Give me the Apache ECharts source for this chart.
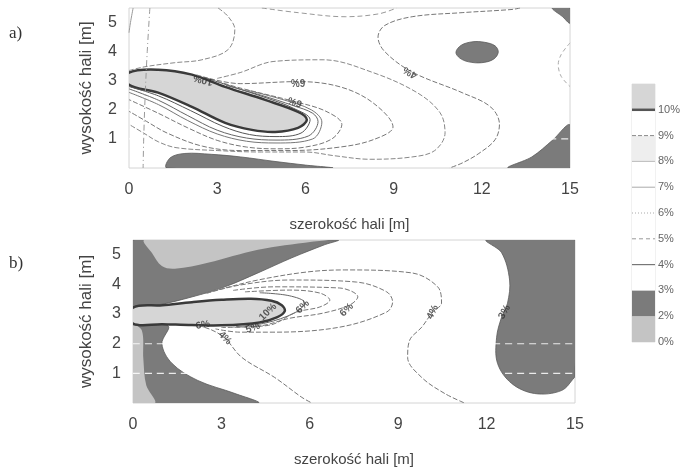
<!DOCTYPE html>
<html><head><meta charset="utf-8">
<script src="https://cdn.jsdelivr.net/npm/echarts@6/dist/echarts.min.js"></script>
<style>html,body{margin:0;padding:0;background:#fff}#c{width:683px;height:470px}</style>
</head><body><div id="c"></div>
<script>
// ---------- axes / ticks ----------
const xTicks = [0, 3, 6, 9, 12, 15];
const yTicks = [1, 2, 3, 4, 5];
const xMax = 15, yMax = 5.5;
const gridLinesY = [1, 2];

// ---------- panel a) : regions (x [m], y [m]) ----------
const aAbove10 = [[0,3.28],[0.99,3.38],[2.14,3.21],[3.27,2.79],[4.63,2.34],[5.75,1.93],[6.05,1.66],[5.75,1.38],[4.97,1.24],[4.18,1.31],[3.27,1.55],[2.14,2.10],[0.99,2.59],[0,2.86]];
const aDarkEllipse = [[11.12,3.98],[11.3,4.22],[11.7,4.34],[12.1,4.32],[12.45,4.2],[12.56,3.98],[12.4,3.74],[12.0,3.62],[11.55,3.65],[11.25,3.78]];
const aDarkTopRight = [[14.4,5.5],[15,5.5],[15,4.98],[14.75,5.2]];
const aDarkBottomRight = [[12.9,0],[13.7,0.38],[14.4,0.95],[15,1.48],[15,0]];
const aDarkBottomLeft = [[1.29,0],[1.4,0.35],[1.9,0.5],[2.8,0.47],[3.8,0.38],[5.0,0.22],[6.0,0.1],[6.9,0]];

// ---------- panel a) : contour lines ----------
const aC9 = [[2.6,3.1],[3.5,2.8],[4.7,2.4],[5.6,2.05],[6.16,1.66],[5.85,1.2],[5,1.08],[4.1,1.15],[3.2,1.43],[2.1,1.97],[1,2.48],[0,2.8]];
const aC8 = [[3.3,2.84],[4.5,2.5],[5.6,2.14],[6.25,1.88],[6.43,1.6],[6.1,1.1],[5,0.96],[4,1.03],[3,1.3],[2,1.8],[1,2.33],[0,2.72]];
const aC7 = [[4.0,2.68],[5.2,2.36],[6.2,2.0],[6.56,1.58],[6.25,1.0],[5,0.86],[4,0.92],[3,1.17],[2,1.63],[1,2.18],[0,2.6]];
const aC6 = [[3.0,2.98],[3.78,2.75],[5.65,2.28],[6.7,1.95],[7.24,1.5],[6.9,1.0],[6,0.72],[5,0.66],[4,0.72],[3,0.95],[2,1.38],[1,1.88],[0,2.35]];
const aC5 = [[2.3,3.2],[3.78,2.9],[5.75,2.97],[7.18,2.79],[8.3,2.24],[8.98,1.41],[8.3,0.97],[7.18,0.72],[5.5,0.6],[3.78,0.6],[2.5,0.75],[1.3,1.2],[0.6,1.6],[0,1.95]];
const aC4 = [[3.0,3.08],[3.78,3.28],[4.9,3.66],[6.6,3.72],[8.3,3.28],[9.8,2.59],[10.58,1.9],[10.75,1.21],[10.4,0.6],[9.63,0.38],[8.2,0.3],[7.0,0.42],[6.0,0.55],[4.5,0.55],[3,0.6],[1.6,0.7],[1.0,0.9],[0.5,1.2],[0,1.5]];
const aBig = [[13.3,5.5],[13.03,5.45],[11.33,5.34],[9.63,5.2],[8.7,4.9],[8.47,4.5],[8.7,4.0],[9.63,3.3],[11.33,2.59],[12.3,2.1],[12.6,1.5],[12.45,0.97],[11.9,0.5],[11.33,0.17],[10.9,0]];
const aTopLoop = [[3.03,5.5],[3.37,5.21],[3.6,4.76],[3.37,4.07],[2.48,3.72],[1.56,3.62],[0.54,3.48],[0,3.35]];
const aTopDip = [[4.52,5.5],[5.75,5.34],[7.35,5.2],[8.5,5.3],[9.1,5.5]];
const aRight = [[15,4.3],[14.7,3.9],[14.6,3.55],[14.7,3.15],[15,2.8]];
const aCorner = [[0.14,5.5],[0.05,5.0],[0,4.65]];
const aVertical = [[0.71,5.5],[0.62,4],[0.55,2.5],[0.5,1],[0.48,0]];

// ---------- panel a) : contour labels ----------
const aLabelText = ['10%', '6%', '6%', '4%'];
const aLabelX = [2.52, 5.75, 5.65, 9.56];
const aLabelY = [3.03, 2.97, 2.28, 3.28];
const aLabelRot = [165, 180, 160, 150];

// ---------- panel b) : regions ----------
const bAbove10 = [[0,3.22],[1,3.3],[2,3.4],[3,3.48],[4,3.52],[4.7,3.45],[5.05,3.3],[5.15,3.1],[4.9,2.9],[4.3,2.72],[3,2.62],[2,2.63],[1,2.66],[0,2.68]];
const bDarkTop = [[0,5.5],[6.95,5.5],[6.5,5.34],[5.39,4.9],[4.24,4.39],[3.12,3.92],[2.0,3.58],[0.85,3.31],[0,3.24]];
const bLowTop = [[0.4,5.5],[0.65,5.05],[0.98,4.62],[1.42,4.53],[2.54,4.73],[4.24,5.17],[6.07,5.44],[6.61,5.5]];
const bDarkBottom = [[0,2.68],[1.19,2.6],[0.98,2.0],[1.32,1.34],[2.2,0.76],[3.46,0.32],[4.24,0],[0,0]];
const bLowBottom = [[0,2.6],[0.3,2.45],[0.35,1.5],[0.45,0.6],[0.75,0],[0,0]];
const bDarkRight = [[12.0,5.5],[12.51,5.07],[12.78,4.15],[12.71,3.37],[12.51,2.9],[12.34,2.22],[12.37,1.34],[12.85,0.66],[13.63,0.32],[14.54,0.42],[14.98,0.86],[15,0.9],[15,5.5]];

// ---------- panel b) : contour lines ----------
const bC1 = [[4.3,3.72],[5.3,3.62],[5.83,3.38],[5.5,3.05],[4.5,2.7],[3.5,2.58]];
const bC2 = [[3.8,3.75],[5.32,3.81],[6.34,3.71],[6.68,3.47],[6.34,3.24],[5.56,3.07],[4.6,2.62],[3.4,2.56]];
const bC3 = [[3.4,3.8],[4.75,3.92],[7.02,3.88],[7.63,3.58],[7.36,3.31],[6.44,3.03],[5.32,2.86],[4.3,2.6],[3,2.55]];
const bC4 = [[2.5,3.7],[3.63,3.98],[5.32,4.15],[7.59,4.08],[8.61,3.75],[8.81,3.41],[8.61,3.07],[7.02,2.56],[4.75,2.39],[3.63,2.39],[2.8,2.5]];
const bC4upper = [[1.76,3.54],[3.0,3.85],[4.24,4.15],[5.9,4.42],[7.19,4.49],[9.46,4.39],[10.34,3.92],[10.47,3.37],[10.17,3.07],[9.8,2.56],[9.39,2.12],[9.32,1.54],[9.8,0.86],[10.58,0.32],[11.25,0]];
const bC4lower = [[2.2,2.62],[2.68,2.46],[3.12,2.19],[3.69,1.54],[4.81,0.86],[5.73,0.19],[6.07,0]];

// ---------- panel b) : contour labels ----------
const bLabelText = ['6%', '5%', '10%', '6%', '6%', '4%', '4%', '3%'];
const bLabelX = [2.37, 4.07, 4.58, 5.76, 7.25, 3.12, 10.17, 12.61];
const bLabelY = [2.63, 2.53, 3.07, 3.24, 3.14, 2.19, 3.07, 3.07];
const bLabelRot = [10, 20, 45, 45, 45, -45, 65, 60];

// ---------- legend ----------
const legendLabels = ['0%', '2%', '3%', '4%', '5%', '6%', '7%', '8%', '9%', '10%'];

// ---------- styles ----------
const FONT = '"Liberation Sans", Arial, sans-serif';
const C_HIGH = '#d6d6d6', C_LOW = '#c4c4c4', C_DARK = '#7b7b7b';
const legendFills = [C_LOW, C_DARK, '#fff', '#fff', '#fff', '#fff', '#fff', '#eeeeee', '#fff', C_HIGH];
const legendLine = [null, null, null,
  {color:'#777', width:1.2, type:'solid'}, {color:'#999', width:1, type:[4,3]},
  {color:'#aaa', width:1, type:[1,2]}, {color:'#aaa', width:1, type:'solid'},
  {color:'#bbb', width:1, type:'solid'}, {color:'#888', width:1, type:[4,2]},
  {color:'#555', width:2.5, type:'solid'}];

function polySeries(gi, poly, fill, stroke, lw, z) {
  return {
    type: 'custom', xAxisIndex: gi, yAxisIndex: gi, clip: true, silent: true, z: z || 2,
    data: [[poly[0][0], poly[0][1]]],
    renderItem: function (params, api) {
      const pts = poly.map(function (q) { return api.coord(q); });
      return { type: 'polygon', shape: { points: pts, smooth: 0.35 },
        style: { fill: fill, stroke: stroke || null, lineWidth: lw || 0 } };
    }
  };
}
function lineSeries(gi, pts, color, width, type, z) {
  return {
    type: 'line', xAxisIndex: gi, yAxisIndex: gi, data: pts, smooth: 0.35,
    symbol: 'none', silent: true, clip: true, z: z || 5,
    lineStyle: { color: color, width: width, type: type }
  };
}
function labelSeries(gi, txt, xs, ys, rots) {
  return {
    type: 'scatter', xAxisIndex: gi, yAxisIndex: gi, symbolSize: 1, silent: true, z: 7,
    itemStyle: { color: 'rgba(0,0,0,0)' },
    data: txt.map(function (t, i) {
      return { name: t, value: [xs[i], ys[i]], label: { rotate: rots[i] } };
    }),
    label: { show: true, position: 'inside', formatter: '{b}', fontSize: 10, fontWeight: 'bold',
      color: '#333', fontFamily: FONT }
  };
}
function gridLineSeries(gi) {
  return gridLinesY.map(function (g) {
    return lineSeries(gi, [[0, g], [xMax, g]], 'rgba(255,255,255,0.85)', 1.2, [7, 5], 3);
  });
}

function xAxisCfg(gi) {
  return { gridIndex: gi, type: 'value', min: 0, max: xMax, interval: 3,
    axisLine: { show: false }, axisTick: { show: false }, splitLine: { show: false },
    axisLabel: { fontSize: 16, color: '#444', margin: 14, fontFamily: FONT,
      formatter: function (v) { return xTicks.indexOf(v) >= 0 ? String(v) : ''; } },
    name: 'szerokość hali [m]', nameLocation: 'middle', nameGap: 49,
    nameTextStyle: { fontSize: 15, color: '#444', fontFamily: FONT } };
}
function yAxisCfg(gi, gap) {
  return { gridIndex: gi, type: 'value', min: 0, max: yMax, interval: 1,
    axisLine: { show: false }, axisTick: { show: false }, splitLine: { show: false },
    axisLabel: { fontSize: 16, color: '#444', margin: 12, fontFamily: FONT,
      formatter: function (v) { return yTicks.indexOf(v) >= 0 ? String(v) : ''; } },
    name: 'wysokość hali [m]', nameLocation: 'middle', nameGap: gap, nameRotate: 90,
    nameTextStyle: { fontSize: 17, color: '#444', fontFamily: FONT } };
}

const series = [];
// panel a  (dark fills z2, white grid dashes z3, >10% area z4, lines z5, labels z7)
[aDarkEllipse, aDarkTopRight, aDarkBottomRight, aDarkBottomLeft].forEach(function (p) {
  series.push(polySeries(0, p, C_DARK, '#5a5a5a', 0.8));
});
series.push.apply(series, gridLineSeries(0));
series.push(polySeries(0, aAbove10, C_HIGH, '#3a3a3a', 2.5, 4));
series.push(lineSeries(0, aC9, '#555', 1, 'solid'));
series.push(lineSeries(0, aC8, '#666', 1, 'solid'));
series.push(lineSeries(0, aC7, '#777', 1, 'solid'));
series.push(lineSeries(0, aC6, '#777', 1, [5, 2]));
series.push(lineSeries(0, aC5, '#777', 1, [5, 2]));
series.push(lineSeries(0, aC4, '#888', 1, [5, 2]));
series.push(lineSeries(0, aBig, '#777', 1, [5, 2]));
series.push(lineSeries(0, aTopLoop, '#888', 1, [5, 2]));
series.push(lineSeries(0, aTopDip, '#999', 1, [5, 3]));
series.push(lineSeries(0, aRight, '#aaa', 1, [4, 3]));
series.push(lineSeries(0, aCorner, '#999', 1, 'solid'));
series.push(lineSeries(0, aVertical, '#999', 1, [6, 3, 1, 3]));
series.push(labelSeries(0, aLabelText, aLabelX, aLabelY, aLabelRot));
// panel b
series.push(polySeries(1, bDarkTop, C_DARK, '#5a5a5a', 0.8));
series.push(polySeries(1, bLowTop, C_LOW, null, 0));
series.push(polySeries(1, bDarkBottom, C_DARK, '#5a5a5a', 0.8));
series.push(polySeries(1, bLowBottom, C_LOW, null, 0));
series.push(polySeries(1, bDarkRight, C_DARK, '#5a5a5a', 0.8));
series.push.apply(series, gridLineSeries(1));
series.push(polySeries(1, bAbove10, C_HIGH, '#3a3a3a', 2.5, 4));
series.push(lineSeries(1, bC1, '#666', 1, 'solid'));
series.push(lineSeries(1, bC2, '#777', 1, [5, 2]));
series.push(lineSeries(1, bC3, '#777', 1, [5, 2]));
series.push(lineSeries(1, bC4, '#777', 1, [5, 2]));
series.push(lineSeries(1, bC4upper, '#777', 1, [5, 2]));
series.push(lineSeries(1, bC4lower, '#777', 1, [5, 2]));
series.push(labelSeries(1, bLabelText, bLabelX, bLabelY, bLabelRot));
// legend
series.push({
  type: 'custom', xAxisIndex: 2, yAxisIndex: 2, silent: true, z: 2,
  data: legendFills.map(function (c, i) { return [0, i]; }),
  renderItem: function (params, api) {
    const i = params.dataIndex;
    const p0 = api.coord([0, i + 1]), p1 = api.coord([1, i]);
    return { type: 'rect', shape: { x: p0[0], y: p0[1], width: p1[0] - p0[0], height: p1[1] - p0[1] },
      style: { fill: legendFills[i] } };
  }
});
series.push({
  type: 'custom', xAxisIndex: 2, yAxisIndex: 2, silent: true, z: 3,
  data: legendLabels.map(function (l, i) { return [0, i]; }),
  renderItem: function (params, api) {
    const s = legendLine[params.dataIndex];
    if (!s) return null;
    const a = api.coord([0, params.dataIndex]), b = api.coord([1, params.dataIndex]);
    return { type: 'line', shape: { x1: a[0], y1: a[1], x2: b[0], y2: b[1] },
      style: { stroke: s.color, lineWidth: s.width, lineDash: s.type === 'solid' ? null : s.type } };
  }
});

const option = {
  animation: false,
  backgroundColor: '#fff',
  grid: [
    { left: 129, top: 8, width: 441, height: 160, show: true, borderColor: '#d4d4d4', borderWidth: 1 },
    { left: 133, top: 240, width: 442, height: 163, show: true, borderColor: '#d4d4d4', borderWidth: 1 },
    { left: 632, top: 84, width: 23, height: 258, show: true, borderColor: '#e2e2e2', borderWidth: 1 }
  ],
  xAxis: [xAxisCfg(0), xAxisCfg(1),
    { gridIndex: 2, type: 'value', min: 0, max: 1, show: false }],
  yAxis: [yAxisCfg(0, 34), yAxisCfg(1, 38),
    { gridIndex: 2, type: 'value', min: 0, max: 10, interval: 1, position: 'right',
      axisLine: { show: false }, axisTick: { show: false }, splitLine: { show: false },
      axisLabel: { fontSize: 11, color: '#666', margin: 3, fontFamily: FONT,
        formatter: function (v) { return legendLabels[v] || ''; } } }],
  graphic: [
    { type: 'text', left: 9, top: 25, style: { text: 'a)', font: '17px "Liberation Serif", serif', fill: '#333' } },
    { type: 'text', left: 9, top: 255, style: { text: 'b)', font: '17px "Liberation Serif", serif', fill: '#333' } }
  ],
  series: series
};
const chart = echarts.init(document.getElementById('c'), null, { renderer: 'canvas' });
chart.setOption(option);
</script></body></html>
